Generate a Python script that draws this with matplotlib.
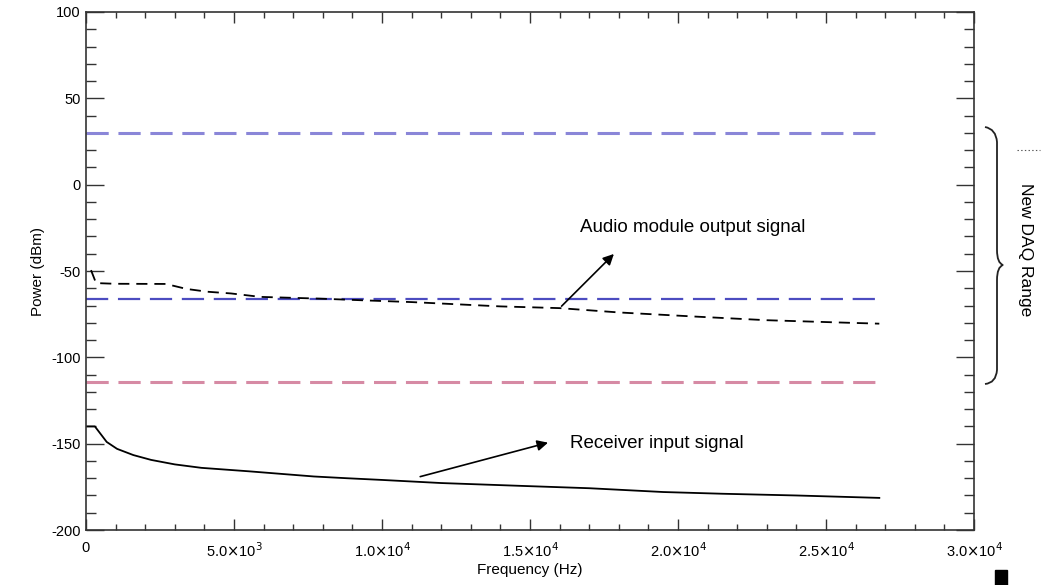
import numpy as np
import matplotlib
matplotlib.use('Agg')
import matplotlib.pyplot as plt
from matplotlib.ticker import FixedLocator, MultipleLocator
from matplotlib.path import Path
from matplotlib.patches import PathPatch

plt.rcParams['font.family'] = ['Liberation Sans', 'DejaVu Sans']
plt.rcParams['lines.scale_dashes'] = False
plt.rcParams['axes.unicode_minus'] = False

# ---- data ----
# audio module output signal (dashed black)
audio_f = [170, 340, 980, 2700, 3400, 4100, 4900, 5900, 7900, 9400, 11000,
           12200, 14000, 16000, 18000, 20700, 23000, 25800, 26800]
audio_p = [-49.5, -57, -57.4, -57.5, -60.4, -62, -63, -65, -66, -67, -68,
           -69, -70.5, -71.5, -74, -76.5, -78.5, -80, -80.5]

# receiver input signal (solid black)
recv_f = [0, 300, 700, 1050, 1600, 2200, 3000, 3900, 5500, 6600, 7700,
          8800, 10000, 12000, 14800, 17000, 19500, 21500, 24000, 26800]
recv_p = [-140, -140, -149, -153, -156.6, -159.4, -162, -164, -166, -167.5,
          -169, -170, -171, -172.8, -174.5, -175.8, -178, -179, -180, -181.4]

# horizontal reference levels
daq_top = 30
daq_mid = -66
daq_low = -114
f_end = 26800

x_major = [0, 5000, 10000, 15000, 20000, 25000, 30000]
x_labels = ['0', r'5.0$\times$10$^3$', r'1.0$\times$10$^4$', r'1.5$\times$10$^4$',
            r'2.0$\times$10$^4$', r'2.5$\times$10$^4$', r'3.0$\times$10$^4$']

W, H = 1046, 585
fig = plt.figure(figsize=(W / 100, H / 100), dpi=100)
ax = fig.add_axes([0.0822, 0.094, 0.849, 0.8855])

ax.plot([0, f_end], [daq_top, daq_top], color='#8a86d8', lw=2.2,
        dashes=(16, 7))
ax.plot([0, f_end], [daq_mid, daq_mid], color='#4c4cc0', lw=1.6,
        dashes=(16, 7))
ax.plot([0, f_end], [daq_low, daq_low], color='#d68aa4', lw=2.2,
        dashes=(16, 7))
ax.plot(audio_f, audio_p, color='black', lw=1.3, dashes=(8, 5))
ax.plot(recv_f, recv_p, color='black', lw=1.3)

ax.set_xlim(0, 30000)
ax.set_ylim(-200, 100)

ax.xaxis.set_major_locator(FixedLocator(x_major))
ax.set_xticklabels(x_labels)
ax.xaxis.set_minor_locator(MultipleLocator(1000))
ax.yaxis.set_major_locator(MultipleLocator(50))
ax.yaxis.set_minor_locator(MultipleLocator(10))

ax.tick_params(axis='both', which='both', direction='in', top=True, right=True,
               labelsize=10.5, width=1, color='#333333')
ax.tick_params(axis='x', which='major', length=8, pad=8)
ax.tick_params(axis='x', which='minor', length=4)
ax.tick_params(axis='y', which='major', length=13, pad=4)
ax.tick_params(axis='y', which='minor', length=7)
for s in ax.spines.values():
    s.set_linewidth(1.2)
    s.set_color('#333333')

ax.set_xlabel('Frequency (Hz)', fontsize=11, labelpad=2)
ax.set_ylabel('Power (dBm)', fontsize=11, labelpad=4)

# annotations
ax.annotate('', xy=(17900, -39), xytext=(16000, -71.5),
            arrowprops=dict(arrowstyle='-|>', color='black', lw=1.2,
                            mutation_scale=16))
ax.text(16700, -25, 'Audio module output signal', fontsize=13.5, va='center')
ax.annotate('', xy=(15700, -149), xytext=(11200, -169.5),
            arrowprops=dict(arrowstyle='-|>', color='black', lw=1.2,
                            mutation_scale=16))
ax.text(16350, -150, 'Receiver input signal', fontsize=13.5, va='center')

# brace for the DAQ range, in pixel coordinates of the figure
brace_px = [(985, 127), (996, 129), (997, 142),
            (997, 250), (997, 263), (1003, 265),
            (997, 267), (997, 280),
            (997, 370), (996, 383), (985, 384)]
codes = [Path.MOVETO, Path.CURVE3, Path.CURVE3,
         Path.LINETO, Path.CURVE3, Path.CURVE3,
         Path.CURVE3, Path.CURVE3,
         Path.LINETO, Path.CURVE3, Path.CURVE3]
verts = [(x / W, 1 - y / H) for x, y in brace_px]
fig.add_artist(PathPatch(Path(verts, codes), transform=fig.transFigure,
                         fill=False, lw=1.3, color='#222222'))
fig.text(1025 / W, 1 - 250 / H, 'New DAQ Range', rotation=-90, fontsize=12.5,
         va='center', ha='center')
fig.add_artist(plt.Line2D([1017 / W, 1040 / W], [1 - 150 / H, 1 - 150 / H],
                          color='#555555', lw=0.8, ls=':'))
fig.add_artist(plt.Rectangle((995 / W, 0.0), 12 / W, 15 / H, color='black'))

fig.savefig('out.png', dpi=100)
